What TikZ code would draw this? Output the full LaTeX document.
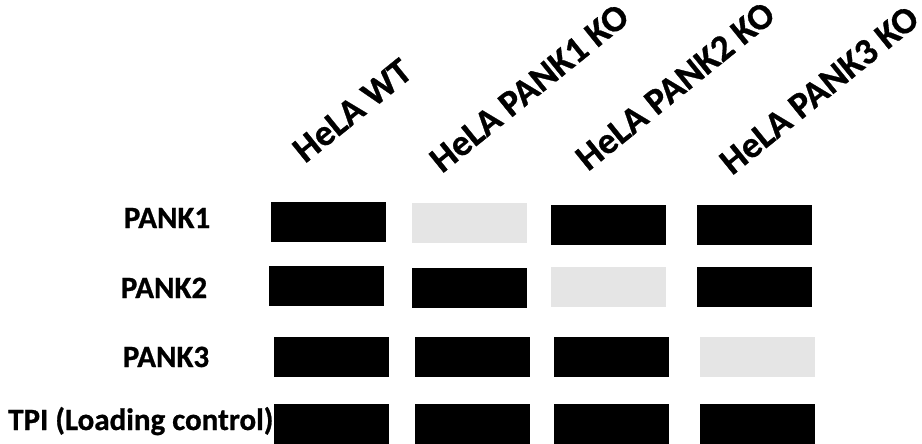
\documentclass[tikz,border=0pt]{standalone}
\usepackage{fontspec}
\setmainfont{Carlito}[BoldFeatures={FakeBold=0.8}]
\begin{document}
\begin{tikzpicture}[x=1pt,y=-1pt,
  lbl/.style={font=\fontsize{31}{36}\selectfont\bfseries, inner sep=0pt},
  hdr/.style={font=\fontsize{37}{42}\selectfont\bfseries, inner sep=0pt, anchor=base west, rotate=39},
  band/.style={minimum width=115pt, minimum height=40pt, inner sep=0pt, fill=black},
  faint/.style={band, fill=gray90},
]
\definecolor{gray90}{HTML}{E5E5E5}
\useasboundingbox (0,0) rectangle (922,444);
% column headers
\node[hdr] (h1) at (305,164) {HeLA WT};
\node[hdr] (h2) at (442,174) {HeLA PANK1 KO};
\node[hdr] (h3) at (588,172) {HeLA PANK2 KO};
\node[hdr] (h4) at (732,176) {HeLA PANK3 KO};
% row labels
\node[lbl, anchor=base] (r1) at (167,228) {PANK1};
\node[lbl, anchor=base] (r2) at (164,298) {PANK2};
\node[lbl, anchor=base] (r3) at (166,367) {PANK3};
\node[lbl, anchor=base west] (r4) at (8,430) {TPI (Loading control)};
% bands
\node[band]  (b11) at (328.5,222) {};
\node[faint] (b12) at (469.5,223) {};
\node[band]  (b13) at (608.5,225) {};
\node[band]  (b14) at (754.5,225) {};
\node[band]  (b21) at (326.5,286) {};
\node[band]  (b22) at (469.5,288) {};
\node[faint] (b23) at (608.5,287) {};
\node[band]  (b24) at (754.5,287) {};
\node[band]  (b31) at (331.5,357) {};
\node[band]  (b32) at (472.5,357) {};
\node[band]  (b33) at (611.5,357) {};
\node[faint] (b34) at (757.5,357) {};
\node[band]  (b41) at (331.5,424) {};
\node[band]  (b42) at (472.5,424) {};
\node[band]  (b43) at (611.5,424) {};
\node[band]  (b44) at (757.5,424) {};
\end{tikzpicture}
\end{document}
